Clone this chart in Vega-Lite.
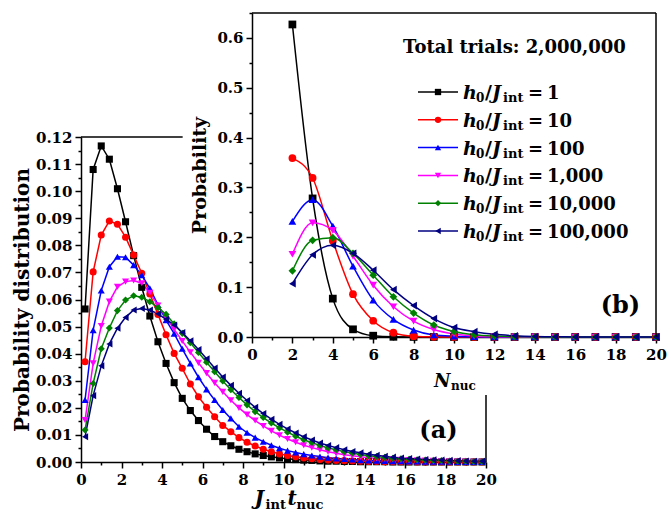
{
"$schema": "https://vega.github.io/schema/vega-lite/v6.json",
"width": 575, "height": 449,
"autosize": {"type": "none"},
"padding": {"left": 81, "top": 13, "right": 11, "bottom": 51},
"background": "white",
"config": {
  "view": {"stroke": null},
  "axis": {"domainColor": "#000", "domainWidth": 1.5, "tickColor": "#000", "tickWidth": 1.5, "tickSize": 6, "labelFont": "DejaVu Serif", "labelFontSize": 15, "labelFontWeight": "bold", "labelColor": "#000", "titleFont": "DejaVu Serif", "titleFontWeight": "bold", "titleColor": "#000", "grid": false, "labelOverlap": false, "labelFlush": false}
},
"datasets": {
"main": [
{"series":"1","t":0.2,"p":0.0565},{"series":"1","t":0.6,"p":0.108},{"series":"1","t":1,"p":0.1167},{"series":"1","t":1.4,"p":0.1118},{"series":"1","t":1.8,"p":0.1009},{"series":"1","t":2.2,"p":0.0887},{"series":"1","t":2.6,"p":0.0762},{"series":"1","t":3,"p":0.0645},{"series":"1","t":3.4,"p":0.0539},{"series":"1","t":3.8,"p":0.0444},{"series":"1","t":4.2,"p":0.0364},{"series":"1","t":4.6,"p":0.0293},{"series":"1","t":5,"p":0.0235},{"series":"1","t":5.4,"p":0.019},{"series":"1","t":5.8,"p":0.0153},{"series":"1","t":6.2,"p":0.0121},{"series":"1","t":6.6,"p":0.0094},{"series":"1","t":7,"p":0.0075},{"series":"1","t":7.4,"p":0.006},{"series":"1","t":7.8,"p":0.0047},{"series":"1","t":8.2,"p":0.0038},{"series":"1","t":8.6,"p":0.003},{"series":"1","t":9,"p":0.0024},{"series":"1","t":9.4,"p":0.0019},{"series":"1","t":9.8,"p":0.0015},{"series":"1","t":10.2,"p":0.0012},{"series":"1","t":10.6,"p":0.0009},{"series":"1","t":11,"p":0.0007},{"series":"1","t":11.4,"p":0.0006},{"series":"1","t":11.8,"p":0.0004},{"series":"1","t":12.2,"p":0.0003},{"series":"1","t":12.6,"p":0.0003},{"series":"1","t":13,"p":0.0002},{"series":"1","t":13.4,"p":0.0002},{"series":"1","t":13.8,"p":0.0001},{"series":"1","t":14.2,"p":0.0001},{"series":"1","t":14.6,"p":0.0001},{"series":"1","t":15,"p":0.0001},{"series":"1","t":15.4,"p":0},{"series":"1","t":15.8,"p":0},{"series":"1","t":16.2,"p":0},{"series":"1","t":16.6,"p":0},{"series":"1","t":17,"p":0},{"series":"1","t":17.4,"p":0},{"series":"1","t":17.8,"p":0},{"series":"1","t":18.2,"p":0},{"series":"1","t":18.6,"p":0},{"series":"1","t":19,"p":0},{"series":"1","t":19.4,"p":0},{"series":"1","t":19.8,"p":0},
{"series":"10","t":0.2,"p":0.037},{"series":"10","t":0.6,"p":0.0702},{"series":"10","t":1,"p":0.0838},{"series":"10","t":1.4,"p":0.089},{"series":"10","t":1.8,"p":0.0878},{"series":"10","t":2.2,"p":0.083},{"series":"10","t":2.6,"p":0.0764},{"series":"10","t":3,"p":0.0697},{"series":"10","t":3.4,"p":0.062},{"series":"10","t":3.8,"p":0.0545},{"series":"10","t":4.2,"p":0.047},{"series":"10","t":4.6,"p":0.0401},{"series":"10","t":5,"p":0.0346},{"series":"10","t":5.4,"p":0.0288},{"series":"10","t":5.8,"p":0.0241},{"series":"10","t":6.2,"p":0.0202},{"series":"10","t":6.6,"p":0.0167},{"series":"10","t":7,"p":0.0135},{"series":"10","t":7.4,"p":0.0112},{"series":"10","t":7.8,"p":0.009},{"series":"10","t":8.2,"p":0.0073},{"series":"10","t":8.6,"p":0.0059},{"series":"10","t":9,"p":0.0047},{"series":"10","t":9.4,"p":0.0038},{"series":"10","t":9.8,"p":0.003},{"series":"10","t":10.2,"p":0.0024},{"series":"10","t":10.6,"p":0.0019},{"series":"10","t":11,"p":0.0015},{"series":"10","t":11.4,"p":0.0012},{"series":"10","t":11.8,"p":0.0009},{"series":"10","t":12.2,"p":0.0007},{"series":"10","t":12.6,"p":0.0006},{"series":"10","t":13,"p":0.0005},{"series":"10","t":13.4,"p":0.0004},{"series":"10","t":13.8,"p":0.0003},{"series":"10","t":14.2,"p":0.0002},{"series":"10","t":14.6,"p":0.0002},{"series":"10","t":15,"p":0.0001},{"series":"10","t":15.4,"p":0.0001},{"series":"10","t":15.8,"p":0.0001},{"series":"10","t":16.2,"p":0.0001},{"series":"10","t":16.6,"p":0},{"series":"10","t":17,"p":0},{"series":"10","t":17.4,"p":0},{"series":"10","t":17.8,"p":0},{"series":"10","t":18.2,"p":0},{"series":"10","t":18.6,"p":0},{"series":"10","t":19,"p":0},{"series":"10","t":19.4,"p":0},{"series":"10","t":19.8,"p":0},
{"series":"100","t":0.2,"p":0.0229},{"series":"100","t":0.6,"p":0.0487},{"series":"100","t":1,"p":0.0633},{"series":"100","t":1.4,"p":0.0721},{"series":"100","t":1.8,"p":0.0758},{"series":"100","t":2.2,"p":0.0756},{"series":"100","t":2.6,"p":0.0727},{"series":"100","t":3,"p":0.069},{"series":"100","t":3.4,"p":0.0641},{"series":"100","t":3.8,"p":0.058},{"series":"100","t":4.2,"p":0.0524},{"series":"100","t":4.6,"p":0.0474},{"series":"100","t":5,"p":0.0418},{"series":"100","t":5.4,"p":0.0364},{"series":"100","t":5.8,"p":0.0313},{"series":"100","t":6.2,"p":0.0268},{"series":"100","t":6.6,"p":0.0229},{"series":"100","t":7,"p":0.0192},{"series":"100","t":7.4,"p":0.0161},{"series":"100","t":7.8,"p":0.013},{"series":"100","t":8.2,"p":0.0108},{"series":"100","t":8.6,"p":0.009},{"series":"100","t":9,"p":0.0075},{"series":"100","t":9.4,"p":0.0062},{"series":"100","t":9.8,"p":0.0051},{"series":"100","t":10.2,"p":0.0042},{"series":"100","t":10.6,"p":0.0035},{"series":"100","t":11,"p":0.0029},{"series":"100","t":11.4,"p":0.0024},{"series":"100","t":11.8,"p":0.002},{"series":"100","t":12.2,"p":0.0016},{"series":"100","t":12.6,"p":0.0013},{"series":"100","t":13,"p":0.0011},{"series":"100","t":13.4,"p":0.0009},{"series":"100","t":13.8,"p":0.0007},{"series":"100","t":14.2,"p":0.0006},{"series":"100","t":14.6,"p":0.0005},{"series":"100","t":15,"p":0.0004},{"series":"100","t":15.4,"p":0.0003},{"series":"100","t":15.8,"p":0.0003},{"series":"100","t":16.2,"p":0.0002},{"series":"100","t":16.6,"p":0.0002},{"series":"100","t":17,"p":0.0001},{"series":"100","t":17.4,"p":0.0001},{"series":"100","t":17.8,"p":0.0001},{"series":"100","t":18.2,"p":0.0001},{"series":"100","t":18.6,"p":0},{"series":"100","t":19,"p":0},{"series":"100","t":19.4,"p":0},{"series":"100","t":19.8,"p":0},
{"series":"1,000","t":0.2,"p":0.0155},{"series":"1,000","t":0.6,"p":0.0364},{"series":"1,000","t":1,"p":0.0502},{"series":"1,000","t":1.4,"p":0.0592},{"series":"1,000","t":1.8,"p":0.0647},{"series":"1,000","t":2.2,"p":0.0666},{"series":"1,000","t":2.6,"p":0.067},{"series":"1,000","t":3,"p":0.066},{"series":"1,000","t":3.4,"p":0.0625},{"series":"1,000","t":3.8,"p":0.0578},{"series":"1,000","t":4.2,"p":0.0535},{"series":"1,000","t":4.6,"p":0.049},{"series":"1,000","t":5,"p":0.0447},{"series":"1,000","t":5.4,"p":0.0405},{"series":"1,000","t":5.8,"p":0.0366},{"series":"1,000","t":6.2,"p":0.0328},{"series":"1,000","t":6.6,"p":0.0292},{"series":"1,000","t":7,"p":0.0259},{"series":"1,000","t":7.4,"p":0.0228},{"series":"1,000","t":7.8,"p":0.02},{"series":"1,000","t":8.2,"p":0.0175},{"series":"1,000","t":8.6,"p":0.0153},{"series":"1,000","t":9,"p":0.0133},{"series":"1,000","t":9.4,"p":0.0115},{"series":"1,000","t":9.8,"p":0.0099},{"series":"1,000","t":10.2,"p":0.0085},{"series":"1,000","t":10.6,"p":0.0073},{"series":"1,000","t":11,"p":0.0062},{"series":"1,000","t":11.4,"p":0.0053},{"series":"1,000","t":11.8,"p":0.0045},{"series":"1,000","t":12.2,"p":0.0038},{"series":"1,000","t":12.6,"p":0.0032},{"series":"1,000","t":13,"p":0.0027},{"series":"1,000","t":13.4,"p":0.0023},{"series":"1,000","t":13.8,"p":0.0019},{"series":"1,000","t":14.2,"p":0.0016},{"series":"1,000","t":14.6,"p":0.0014},{"series":"1,000","t":15,"p":0.0012},{"series":"1,000","t":15.4,"p":0.001},{"series":"1,000","t":15.8,"p":0.0008},{"series":"1,000","t":16.2,"p":0.0007},{"series":"1,000","t":16.6,"p":0.0006},{"series":"1,000","t":17,"p":0.0005},{"series":"1,000","t":17.4,"p":0.0004},{"series":"1,000","t":17.8,"p":0.0003},{"series":"1,000","t":18.2,"p":0.0003},{"series":"1,000","t":18.6,"p":0.0002},{"series":"1,000","t":19,"p":0.0002},{"series":"1,000","t":19.4,"p":0.0001},{"series":"1,000","t":19.8,"p":0.0001},
{"series":"10,000","t":0.2,"p":0.0118},{"series":"10,000","t":0.6,"p":0.029},{"series":"10,000","t":1,"p":0.0418},{"series":"10,000","t":1.4,"p":0.0495},{"series":"10,000","t":1.8,"p":0.0559},{"series":"10,000","t":2.2,"p":0.0598},{"series":"10,000","t":2.6,"p":0.0614},{"series":"10,000","t":3,"p":0.0608},{"series":"10,000","t":3.4,"p":0.0592},{"series":"10,000","t":3.8,"p":0.057},{"series":"10,000","t":4.2,"p":0.0545},{"series":"10,000","t":4.6,"p":0.051},{"series":"10,000","t":5,"p":0.0475},{"series":"10,000","t":5.4,"p":0.044},{"series":"10,000","t":5.8,"p":0.0404},{"series":"10,000","t":6.2,"p":0.0368},{"series":"10,000","t":6.6,"p":0.0333},{"series":"10,000","t":7,"p":0.0299},{"series":"10,000","t":7.4,"p":0.0267},{"series":"10,000","t":7.8,"p":0.0238},{"series":"10,000","t":8.2,"p":0.0211},{"series":"10,000","t":8.6,"p":0.0186},{"series":"10,000","t":9,"p":0.0164},{"series":"10,000","t":9.4,"p":0.0144},{"series":"10,000","t":9.8,"p":0.0126},{"series":"10,000","t":10.2,"p":0.011},{"series":"10,000","t":10.6,"p":0.0095},{"series":"10,000","t":11,"p":0.0082},{"series":"10,000","t":11.4,"p":0.0071},{"series":"10,000","t":11.8,"p":0.0061},{"series":"10,000","t":12.2,"p":0.0052},{"series":"10,000","t":12.6,"p":0.0045},{"series":"10,000","t":13,"p":0.0038},{"series":"10,000","t":13.4,"p":0.0033},{"series":"10,000","t":13.8,"p":0.0028},{"series":"10,000","t":14.2,"p":0.0023},{"series":"10,000","t":14.6,"p":0.002},{"series":"10,000","t":15,"p":0.0017},{"series":"10,000","t":15.4,"p":0.0014},{"series":"10,000","t":15.8,"p":0.0012},{"series":"10,000","t":16.2,"p":0.001},{"series":"10,000","t":16.6,"p":0.0008},{"series":"10,000","t":17,"p":0.0007},{"series":"10,000","t":17.4,"p":0.0006},{"series":"10,000","t":17.8,"p":0.0005},{"series":"10,000","t":18.2,"p":0.0004},{"series":"10,000","t":18.6,"p":0.0003},{"series":"10,000","t":19,"p":0.0003},{"series":"10,000","t":19.4,"p":0.0002},{"series":"10,000","t":19.8,"p":0.0002},
{"series":"100,000","t":0.2,"p":0.0093},{"series":"100,000","t":0.6,"p":0.0245},{"series":"100,000","t":1,"p":0.0355},{"series":"100,000","t":1.4,"p":0.0436},{"series":"100,000","t":1.8,"p":0.0494},{"series":"100,000","t":2.2,"p":0.0534},{"series":"100,000","t":2.6,"p":0.0561},{"series":"100,000","t":3,"p":0.0567},{"series":"100,000","t":3.4,"p":0.0561},{"series":"100,000","t":3.8,"p":0.0547},{"series":"100,000","t":4.2,"p":0.0527},{"series":"100,000","t":4.6,"p":0.0506},{"series":"100,000","t":5,"p":0.0478},{"series":"100,000","t":5.4,"p":0.0448},{"series":"100,000","t":5.8,"p":0.0415},{"series":"100,000","t":6.2,"p":0.0381},{"series":"100,000","t":6.6,"p":0.0347},{"series":"100,000","t":7,"p":0.0314},{"series":"100,000","t":7.4,"p":0.0283},{"series":"100,000","t":7.8,"p":0.0254},{"series":"100,000","t":8.2,"p":0.0227},{"series":"100,000","t":8.6,"p":0.0202},{"series":"100,000","t":9,"p":0.0179},{"series":"100,000","t":9.4,"p":0.0158},{"series":"100,000","t":9.8,"p":0.0139},{"series":"100,000","t":10.2,"p":0.0122},{"series":"100,000","t":10.6,"p":0.0107},{"series":"100,000","t":11,"p":0.0093},{"series":"100,000","t":11.4,"p":0.0081},{"series":"100,000","t":11.8,"p":0.007},{"series":"100,000","t":12.2,"p":0.0061},{"series":"100,000","t":12.6,"p":0.0053},{"series":"100,000","t":13,"p":0.0045},{"series":"100,000","t":13.4,"p":0.0039},{"series":"100,000","t":13.8,"p":0.0034},{"series":"100,000","t":14.2,"p":0.0029},{"series":"100,000","t":14.6,"p":0.0025},{"series":"100,000","t":15,"p":0.0021},{"series":"100,000","t":15.4,"p":0.0018},{"series":"100,000","t":15.8,"p":0.0015},{"series":"100,000","t":16.2,"p":0.0013},{"series":"100,000","t":16.6,"p":0.0011},{"series":"100,000","t":17,"p":0.0009},{"series":"100,000","t":17.4,"p":0.0008},{"series":"100,000","t":17.8,"p":0.0007},{"series":"100,000","t":18.2,"p":0.0006},{"series":"100,000","t":18.6,"p":0.0005},{"series":"100,000","t":19,"p":0.0004},{"series":"100,000","t":19.4,"p":0.0003},{"series":"100,000","t":19.8,"p":0.0003}
],
"inset": [
{"series":"1","n":2,"p":0.627},{"series":"1","n":3,"p":0.278},{"series":"1","n":4,"p":0.077},{"series":"1","n":5,"p":0.0154},{"series":"1","n":6,"p":0.0026},{"series":"1","n":7,"p":0.0004},{"series":"1","n":8,"p":0.0001},{"series":"1","n":9,"p":0},{"series":"1","n":10,"p":0},{"series":"1","n":11,"p":0},{"series":"1","n":12,"p":0},{"series":"1","n":13,"p":0},{"series":"1","n":14,"p":0},{"series":"1","n":15,"p":0},{"series":"1","n":16,"p":0},{"series":"1","n":17,"p":0},{"series":"1","n":18,"p":0},{"series":"1","n":19,"p":0},{"series":"1","n":20,"p":0},
{"series":"10","n":2,"p":0.359},{"series":"10","n":3,"p":0.319},{"series":"10","n":4,"p":0.193},{"series":"10","n":5,"p":0.086},{"series":"10","n":6,"p":0.0326},{"series":"10","n":7,"p":0.0086},{"series":"10","n":8,"p":0.0016},{"series":"10","n":9,"p":0.0003},{"series":"10","n":10,"p":0.0001},{"series":"10","n":11,"p":0},{"series":"10","n":12,"p":0},{"series":"10","n":13,"p":0},{"series":"10","n":14,"p":0},{"series":"10","n":15,"p":0},{"series":"10","n":16,"p":0},{"series":"10","n":17,"p":0},{"series":"10","n":18,"p":0},{"series":"10","n":19,"p":0},{"series":"10","n":20,"p":0},
{"series":"100","n":2,"p":0.232},{"series":"100","n":3,"p":0.2755},{"series":"100","n":4,"p":0.2227},{"series":"100","n":5,"p":0.142},{"series":"100","n":6,"p":0.074},{"series":"100","n":7,"p":0.0353},{"series":"100","n":8,"p":0.014},{"series":"100","n":9,"p":0.004},{"series":"100","n":10,"p":0.0015},{"series":"100","n":11,"p":0.0005},{"series":"100","n":12,"p":0.0002},{"series":"100","n":13,"p":0.0001},{"series":"100","n":14,"p":0},{"series":"100","n":15,"p":0},{"series":"100","n":16,"p":0},{"series":"100","n":17,"p":0},{"series":"100","n":18,"p":0},{"series":"100","n":19,"p":0},{"series":"100","n":20,"p":0},
{"series":"1,000","n":2,"p":0.166},{"series":"1,000","n":3,"p":0.229},{"series":"1,000","n":4,"p":0.214},{"series":"1,000","n":5,"p":0.162},{"series":"1,000","n":6,"p":0.104},{"series":"1,000","n":7,"p":0.0607},{"series":"1,000","n":8,"p":0.032},{"series":"1,000","n":9,"p":0.015},{"series":"1,000","n":10,"p":0.006},{"series":"1,000","n":11,"p":0.002},{"series":"1,000","n":12,"p":0.0007},{"series":"1,000","n":13,"p":0.0002},{"series":"1,000","n":14,"p":0.0001},{"series":"1,000","n":15,"p":0},{"series":"1,000","n":16,"p":0},{"series":"1,000","n":17,"p":0},{"series":"1,000","n":18,"p":0},{"series":"1,000","n":19,"p":0},{"series":"1,000","n":20,"p":0},
{"series":"10,000","n":2,"p":0.1327},{"series":"10,000","n":3,"p":0.194},{"series":"10,000","n":4,"p":0.1993},{"series":"10,000","n":5,"p":0.168},{"series":"10,000","n":6,"p":0.124},{"series":"10,000","n":7,"p":0.0807},{"series":"10,000","n":8,"p":0.048},{"series":"10,000","n":9,"p":0.024},{"series":"10,000","n":10,"p":0.011},{"series":"10,000","n":11,"p":0.0045},{"series":"10,000","n":12,"p":0.0018},{"series":"10,000","n":13,"p":0.0007},{"series":"10,000","n":14,"p":0.0003},{"series":"10,000","n":15,"p":0.0001},{"series":"10,000","n":16,"p":0},{"series":"10,000","n":17,"p":0},{"series":"10,000","n":18,"p":0},{"series":"10,000","n":19,"p":0},{"series":"10,000","n":20,"p":0},
{"series":"100,000","n":2,"p":0.107},{"series":"100,000","n":3,"p":0.165},{"series":"100,000","n":4,"p":0.184},{"series":"100,000","n":5,"p":0.168},{"series":"100,000","n":6,"p":0.134},{"series":"100,000","n":7,"p":0.095},{"series":"100,000","n":8,"p":0.063},{"series":"100,000","n":9,"p":0.037},{"series":"100,000","n":10,"p":0.019},{"series":"100,000","n":11,"p":0.0107},{"series":"100,000","n":12,"p":0.0053},{"series":"100,000","n":13,"p":0.0025},{"series":"100,000","n":14,"p":0.001},{"series":"100,000","n":15,"p":0.0005},{"series":"100,000","n":16,"p":0.0002},{"series":"100,000","n":17,"p":0.0001},{"series":"100,000","n":18,"p":0},{"series":"100,000","n":19,"p":0},{"series":"100,000","n":20,"p":0}
],
"legend": [{"series":"1"},{"series":"10"},{"series":"100"},{"series":"1,000"},{"series":"10,000"},{"series":"100,000"}]
},
"layer": [
{"layer": [
  {"data": {"name": "main"}, "mark": {"type": "line", "strokeWidth": 1.5},
   "encoding": {
     "x": {"field": "t", "type": "quantitative", "scale": {"domain": [0,20], "range": [0,405], "nice": false, "zero": false}, "axis": null},
     "y": {"field": "p", "type": "quantitative", "scale": {"domain": [0,0.12], "range": [449,124], "nice": false, "zero": false}, "axis": null},
     "color": {"field": "series", "type": "nominal", "scale": {"domain": ["1","10","100","1,000","10,000","100,000"], "range": ["#000000","#ff0000","#0000ff","#ff00ff","#008000","#000080"]}, "legend": null}
   }},
  {"data": {"name": "main"}, "mark": {"type": "point", "filled": true, "size": 50, "opacity": 1},
   "encoding": {
     "x": {"field": "t", "type": "quantitative", "scale": {"domain": [0,20], "range": [0,405], "nice": false, "zero": false}, "axis": null},
     "y": {"field": "p", "type": "quantitative", "scale": {"domain": [0,0.12], "range": [449,124], "nice": false, "zero": false}, "axis": null},
     "color": {"field": "series", "type": "nominal", "scale": {"domain": ["1","10","100","1,000","10,000","100,000"], "range": ["#000000","#ff0000","#0000ff","#ff00ff","#008000","#000080"]}, "legend": null},
     "shape": {"field": "series", "type": "nominal", "scale": {"domain": ["1","10","100","1,000","10,000","100,000"], "range": ["square","circle","triangle-up","triangle-down","diamond","triangle-left"]}, "legend": null}
   }},
  {"data": {"values": [{}]}, "mark": {"type": "rule", "color": "#000", "strokeWidth": 1.5},
   "encoding": {"x": {"datum": 0, "type": "quantitative", "scale": {"domain": [0,20], "range": [0,405], "nice": false, "zero": false}, "axis": null}, "x2": {"datum": 5.02}, "y": {"datum": 0.12, "type": "quantitative", "scale": {"domain": [0,0.12], "range": [449,124], "nice": false, "zero": false}, "axis": null}}},
  {"data": {"values": [{}]}, "mark": {"type": "rule", "color": "#000", "strokeWidth": 1.5},
   "encoding": {"x": {"datum": 20, "type": "quantitative", "scale": {"domain": [0,20], "range": [0,405], "nice": false, "zero": false}, "axis": null}, "y": {"datum": 0, "type": "quantitative", "scale": {"domain": [0,0.12], "range": [449,124], "nice": false, "zero": false}, "axis": null}, "y2": {"datum": 0.0247}}},
  {"data": {"values": [{}]}, "mark": {"type": "text", "text": "(a)", "font": "DejaVu Serif", "fontWeight": "bold", "fontSize": 24, "align": "center", "baseline": "middle"},
   "encoding": {"x": {"datum": 17.65, "type": "quantitative", "scale": {"domain": [0,20], "range": [0,405], "nice": false, "zero": false}, "axis": null}, "y": {"datum": 0.0116, "type": "quantitative", "scale": {"domain": [0,0.12], "range": [449,124], "nice": false, "zero": false}, "axis": null}}},
  {"data": {"values": [{}]}, "mark": {"type": "text", "text": "J", "font": "DejaVu Serif", "fontWeight": "bold", "fontStyle": "italic", "fontSize": 20, "align": "left", "baseline": "alphabetic", "dx": -29, "dy": 43},
   "encoding": {"x": {"datum": 10, "type": "quantitative", "scale": {"domain": [0,20], "range": [0,405], "nice": false, "zero": false}, "axis": null}, "y": {"datum": 0, "type": "quantitative", "scale": {"domain": [0,0.12], "range": [449,124], "nice": false, "zero": false}, "axis": null}}},
  {"data": {"values": [{}]}, "mark": {"type": "text", "text": "int", "font": "DejaVu Serif", "fontWeight": "bold", "fontSize": 13, "align": "left", "baseline": "alphabetic", "dx": -18, "dy": 47},
   "encoding": {"x": {"datum": 10, "type": "quantitative", "scale": {"domain": [0,20], "range": [0,405], "nice": false, "zero": false}, "axis": null}, "y": {"datum": 0, "type": "quantitative", "scale": {"domain": [0,0.12], "range": [449,124], "nice": false, "zero": false}, "axis": null}}},
  {"data": {"values": [{}]}, "mark": {"type": "text", "text": "t", "font": "DejaVu Serif", "fontWeight": "bold", "fontStyle": "italic", "fontSize": 20, "align": "left", "baseline": "alphabetic", "dx": 4, "dy": 43},
   "encoding": {"x": {"datum": 10, "type": "quantitative", "scale": {"domain": [0,20], "range": [0,405], "nice": false, "zero": false}, "axis": null}, "y": {"datum": 0, "type": "quantitative", "scale": {"domain": [0,0.12], "range": [449,124], "nice": false, "zero": false}, "axis": null}}},
  {"data": {"values": [{}]}, "mark": {"type": "text", "text": "nuc", "font": "DejaVu Serif", "fontWeight": "bold", "fontSize": 13, "align": "left", "baseline": "alphabetic", "dx": 13, "dy": 47},
   "encoding": {"x": {"datum": 10, "type": "quantitative", "scale": {"domain": [0,20], "range": [0,405], "nice": false, "zero": false}, "axis": null}, "y": {"datum": 0, "type": "quantitative", "scale": {"domain": [0,0.12], "range": [449,124], "nice": false, "zero": false}, "axis": null}}}
]},
{"layer": [
  {"data": {"name": "inset"}, "mark": {"type": "line", "strokeWidth": 1.5, "interpolate": "monotone"},
   "encoding": {
     "x": {"field": "n", "type": "quantitative", "scale": {"domain": [0,20], "range": [171,575], "nice": false, "zero": false}, "axis": null},
     "y": {"field": "p", "type": "quantitative", "scale": {"domain": [0,0.65], "range": [324,0], "nice": false, "zero": false}, "axis": null},
     "color": {"field": "series", "type": "nominal", "scale": {"domain": ["1","10","100","1,000","10,000","100,000"], "range": ["#000000","#ff0000","#0000ff","#ff00ff","#008000","#000080"]}, "legend": null}
   }},
  {"data": {"name": "inset"}, "mark": {"type": "point", "filled": true, "size": 60, "opacity": 1},
   "encoding": {
     "x": {"field": "n", "type": "quantitative", "scale": {"domain": [0,20], "range": [171,575], "nice": false, "zero": false}, "axis": null},
     "y": {"field": "p", "type": "quantitative", "scale": {"domain": [0,0.65], "range": [324,0], "nice": false, "zero": false}, "axis": null},
     "color": {"field": "series", "type": "nominal", "scale": {"domain": ["1","10","100","1,000","10,000","100,000"], "range": ["#000000","#ff0000","#0000ff","#ff00ff","#008000","#000080"]}, "legend": null},
     "shape": {"field": "series", "type": "nominal", "scale": {"domain": ["1","10","100","1,000","10,000","100,000"], "range": ["square","circle","triangle-up","triangle-down","diamond","triangle-left"]}, "legend": null}
   }},
  {"data": {"values": [{}]}, "mark": {"type": "rule", "color": "#000", "strokeWidth": 1.5},
   "encoding": {"x": {"datum": 0, "type": "quantitative", "scale": {"domain": [0,20], "range": [171,575], "nice": false, "zero": false}, "axis": null}, "x2": {"datum": 20}, "y": {"datum": 0.65, "type": "quantitative", "scale": {"domain": [0,0.65], "range": [324,0], "nice": false, "zero": false}, "axis": null}}},
  {"data": {"values": [{}]}, "mark": {"type": "rule", "color": "#000", "strokeWidth": 1.5},
   "encoding": {"x": {"datum": 20, "type": "quantitative", "scale": {"domain": [0,20], "range": [171,575], "nice": false, "zero": false}, "axis": null}, "y": {"datum": 0, "type": "quantitative", "scale": {"domain": [0,0.65], "range": [324,0], "nice": false, "zero": false}, "axis": null}, "y2": {"datum": 0.65}}},
  {"data": {"values": [{}]}, "mark": {"type": "text", "text": "Total trials: 2,000,000", "font": "DejaVu Serif", "fontWeight": "bold", "fontSize": 18, "align": "left", "baseline": "alphabetic"},
   "encoding": {"x": {"datum": 7.48, "type": "quantitative", "scale": {"domain": [0,20], "range": [171,575], "nice": false, "zero": false}, "axis": null}, "y": {"datum": 0.57, "type": "quantitative", "scale": {"domain": [0,0.65], "range": [324,0], "nice": false, "zero": false}, "axis": null}}},
  {"data": {"values": [{}]}, "mark": {"type": "text", "text": "(b)", "font": "DejaVu Serif", "fontWeight": "bold", "fontSize": 24, "align": "center", "baseline": "middle"},
   "encoding": {"x": {"datum": 18.24, "type": "quantitative", "scale": {"domain": [0,20], "range": [171,575], "nice": false, "zero": false}, "axis": null}, "y": {"datum": 0.063, "type": "quantitative", "scale": {"domain": [0,0.65], "range": [324,0], "nice": false, "zero": false}, "axis": null}}},
  {"data": {"values": [{}]}, "mark": {"type": "text", "text": "N", "font": "DejaVu Serif", "fontWeight": "bold", "fontStyle": "italic", "fontSize": 18, "align": "left", "baseline": "alphabetic", "dx": -20, "dy": 50},
   "encoding": {"x": {"datum": 10, "type": "quantitative", "scale": {"domain": [0,20], "range": [171,575], "nice": false, "zero": false}, "axis": null}, "y": {"datum": 0, "type": "quantitative", "scale": {"domain": [0,0.65], "range": [324,0], "nice": false, "zero": false}, "axis": null}}},
  {"data": {"values": [{}]}, "mark": {"type": "text", "text": "nuc", "font": "DejaVu Serif", "fontWeight": "bold", "fontSize": 12, "align": "left", "baseline": "alphabetic", "dx": -3, "dy": 53},
   "encoding": {"x": {"datum": 10, "type": "quantitative", "scale": {"domain": [0,20], "range": [171,575], "nice": false, "zero": false}, "axis": null}, "y": {"datum": 0, "type": "quantitative", "scale": {"domain": [0,0.65], "range": [324,0], "nice": false, "zero": false}, "axis": null}}}
]},
{"layer": [
  {"data": {"values": [{}]}, "mark": {"type": "point", "opacity": 0},
   "encoding": {
     "x": {"datum": 0, "type": "quantitative", "scale": {"domain": [0,20], "range": [0,405], "nice": false, "zero": false},
       "axis": {"orient": "bottom", "values": [0,2,4,6,8,10,12,14,16,18,20], "tickCount": 100, "format": "d", "labelPadding": 4, "labelOverlap": false, "title": null}},
     "y": {"datum": 0, "type": "quantitative", "scale": {"domain": [0,0.12], "range": [449,124], "nice": false, "zero": false},
       "axis": {"orient": "left", "values": [0,0.01,0.02,0.03,0.04,0.05,0.06,0.07,0.08,0.09,0.1,0.11,0.12], "tickCount": 100, "format": ".2f", "labelPadding": 3, "labelOverlap": false, "title": "Probability distribution", "titleFontSize": 20, "titlePadding": 3}}
   }}
]},
{"layer": [
  {"data": {"values": [{}]}, "mark": {"type": "point", "opacity": 0},
   "encoding": {
     "x": {"datum": 0, "type": "quantitative", "scale": {"domain": [0,20], "range": [0,405], "nice": false, "zero": false},
       "axis": {"orient": "bottom", "values": [1,3,5,7,9,11,13,15,17,19], "tickCount": 100, "labels": false, "domain": false, "tickSize": 3, "title": null}},
     "y": {"datum": 0, "type": "quantitative", "scale": {"domain": [0,0.12], "range": [449,124], "nice": false, "zero": false},
       "axis": {"orient": "left", "values": [0.005,0.015,0.025,0.035,0.045,0.055,0.065,0.075,0.085,0.095,0.105,0.115], "tickCount": 100, "labels": false, "domain": false, "tickSize": 3, "title": null}}
   }}
]},
{"layer": [
  {"data": {"values": [{}]}, "mark": {"type": "point", "opacity": 0},
   "encoding": {
     "x": {"datum": 0, "type": "quantitative", "scale": {"domain": [0,20], "range": [171,575], "nice": false, "zero": false},
       "axis": {"orient": "bottom", "offset": -125, "values": [0,2,4,6,8,10,12,14,16,18,20], "tickCount": 100, "format": "d", "labelPadding": 4, "labelOverlap": false, "title": null}},
     "y": {"datum": 0, "type": "quantitative", "scale": {"domain": [0,0.65], "range": [324,0], "nice": false, "zero": false},
       "axis": {"orient": "left", "offset": -171, "values": [0,0.1,0.2,0.3,0.4,0.5,0.6], "tickCount": 100, "format": ".1f", "labelPadding": 3, "labelOverlap": false, "title": "Probability", "titleFontSize": 19, "titlePadding": 7}}
   }}
]},
{"layer": [
  {"data": {"values": [{}]}, "mark": {"type": "point", "opacity": 0},
   "encoding": {
     "x": {"datum": 0, "type": "quantitative", "scale": {"domain": [0,20], "range": [171,575], "nice": false, "zero": false},
       "axis": {"orient": "bottom", "offset": -125, "values": [1,3,5,7,9,11,13,15,17,19], "tickCount": 100, "labels": false, "domain": false, "tickSize": 3, "title": null}},
     "y": {"datum": 0, "type": "quantitative", "scale": {"domain": [0,0.65], "range": [324,0], "nice": false, "zero": false},
       "axis": {"orient": "left", "offset": -171, "values": [0.05,0.15,0.25,0.35,0.45,0.55,0.65], "tickCount": 100, "labels": false, "domain": false, "tickSize": 3, "title": null}}
   }}
]},
{"layer": [
  {"data": {"name": "legend"}, "mark": {"type": "rule", "strokeWidth": 1.5},
   "encoding": {"x": {"datum": 0, "type": "quantitative", "scale": {"domain": [0,1], "range": [337,377], "nice": false, "zero": false}, "axis": null}, "x2": {"datum": 1},
     "y": {"field": "series", "type": "nominal", "scale": {"type": "point", "domain": ["1","10","100","1,000","10,000","100,000"], "range": [79,218], "padding": 0}, "axis": null},
     "color": {"field": "series", "type": "nominal", "scale": {"domain": ["1","10","100","1,000","10,000","100,000"], "range": ["#000000","#ff0000","#0000ff","#ff00ff","#008000","#000080"]}, "legend": null}}},
  {"data": {"name": "legend"}, "mark": {"type": "point", "filled": true, "size": 40, "opacity": 1},
   "encoding": {"x": {"datum": 0.5, "type": "quantitative", "scale": {"domain": [0,1], "range": [337,377], "nice": false, "zero": false}, "axis": null},
     "y": {"field": "series", "type": "nominal", "scale": {"type": "point", "domain": ["1","10","100","1,000","10,000","100,000"], "range": [79,218], "padding": 0}, "axis": null},
     "color": {"field": "series", "type": "nominal", "scale": {"domain": ["1","10","100","1,000","10,000","100,000"], "range": ["#000000","#ff0000","#0000ff","#ff00ff","#008000","#000080"]}, "legend": null},
     "shape": {"field": "series", "type": "nominal", "scale": {"domain": ["1","10","100","1,000","10,000","100,000"], "range": ["square","circle","triangle-up","triangle-down","diamond","triangle-left"]}, "legend": null}}},
  {"data": {"name": "legend"}, "mark": {"type": "text", "text": "h", "font": "DejaVu Serif", "fontWeight": "bold", "fontStyle": "italic", "fontSize": 19, "align": "left", "baseline": "alphabetic", "dx": 5, "dy": 7},
   "encoding": {"x": {"datum": 1, "type": "quantitative", "scale": {"domain": [0,1], "range": [337,377], "nice": false, "zero": false}, "axis": null},
     "y": {"field": "series", "type": "nominal", "scale": {"type": "point", "domain": ["1","10","100","1,000","10,000","100,000"], "range": [79,218], "padding": 0}, "axis": null}}},
  {"data": {"name": "legend"}, "mark": {"type": "text", "text": "0", "font": "DejaVu Serif", "fontWeight": "bold", "fontSize": 12, "align": "left", "baseline": "alphabetic", "dx": 18, "dy": 10},
   "encoding": {"x": {"datum": 1, "type": "quantitative", "scale": {"domain": [0,1], "range": [337,377], "nice": false, "zero": false}, "axis": null},
     "y": {"field": "series", "type": "nominal", "scale": {"type": "point", "domain": ["1","10","100","1,000","10,000","100,000"], "range": [79,218], "padding": 0}, "axis": null}}},
  {"data": {"name": "legend"}, "mark": {"type": "text", "text": "/", "font": "DejaVu Serif", "fontWeight": "bold", "fontSize": 19, "align": "left", "baseline": "alphabetic", "dx": 27, "dy": 7},
   "encoding": {"x": {"datum": 1, "type": "quantitative", "scale": {"domain": [0,1], "range": [337,377], "nice": false, "zero": false}, "axis": null},
     "y": {"field": "series", "type": "nominal", "scale": {"type": "point", "domain": ["1","10","100","1,000","10,000","100,000"], "range": [79,218], "padding": 0}, "axis": null}}},
  {"data": {"name": "legend"}, "mark": {"type": "text", "text": "J", "font": "DejaVu Serif", "fontWeight": "bold", "fontStyle": "italic", "fontSize": 19, "align": "left", "baseline": "alphabetic", "dx": 34, "dy": 7},
   "encoding": {"x": {"datum": 1, "type": "quantitative", "scale": {"domain": [0,1], "range": [337,377], "nice": false, "zero": false}, "axis": null},
     "y": {"field": "series", "type": "nominal", "scale": {"type": "point", "domain": ["1","10","100","1,000","10,000","100,000"], "range": [79,218], "padding": 0}, "axis": null}}},
  {"data": {"name": "legend"}, "mark": {"type": "text", "text": "int", "font": "DejaVu Serif", "fontWeight": "bold", "fontSize": 13, "align": "left", "baseline": "alphabetic", "dx": 45, "dy": 10},
   "encoding": {"x": {"datum": 1, "type": "quantitative", "scale": {"domain": [0,1], "range": [337,377], "nice": false, "zero": false}, "axis": null},
     "y": {"field": "series", "type": "nominal", "scale": {"type": "point", "domain": ["1","10","100","1,000","10,000","100,000"], "range": [79,218], "padding": 0}, "axis": null}}},
  {"data": {"name": "legend"}, "mark": {"type": "text", "text": "=", "font": "DejaVu Serif", "fontWeight": "bold", "fontSize": 18, "align": "left", "baseline": "alphabetic", "dx": 70, "dy": 7},
   "encoding": {"x": {"datum": 1, "type": "quantitative", "scale": {"domain": [0,1], "range": [337,377], "nice": false, "zero": false}, "axis": null},
     "y": {"field": "series", "type": "nominal", "scale": {"type": "point", "domain": ["1","10","100","1,000","10,000","100,000"], "range": [79,218], "padding": 0}, "axis": null}}},
  {"data": {"name": "legend"}, "mark": {"type": "text", "font": "DejaVu Serif", "fontWeight": "bold", "fontSize": 18, "align": "left", "baseline": "alphabetic", "dx": 89, "dy": 7},
   "encoding": {"x": {"datum": 1, "type": "quantitative", "scale": {"domain": [0,1], "range": [337,377], "nice": false, "zero": false}, "axis": null},
     "y": {"field": "series", "type": "nominal", "scale": {"type": "point", "domain": ["1","10","100","1,000","10,000","100,000"], "range": [79,218], "padding": 0}, "axis": null},
     "text": {"field": "series", "type": "nominal"}}}
]}
],
"resolve": {"scale": {"x": "independent", "y": "independent"}}
}
